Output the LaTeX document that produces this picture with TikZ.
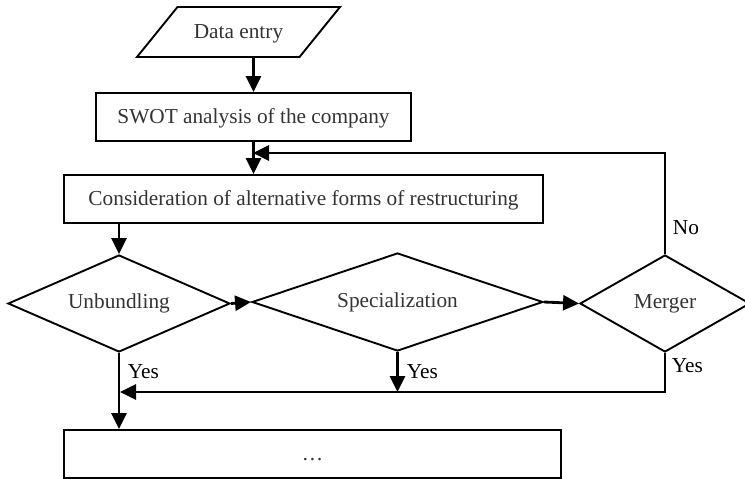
\documentclass[tikz,border=0pt]{standalone}
\usepackage{fontspec}
\setmainfont{Liberation Serif}
\usetikzlibrary{arrows.meta,shapes.geometric}

\definecolor{boxtext}{HTML}{333333}

\begin{document}
\begin{tikzpicture}[x=1pt, y=-1pt, line width=1.9pt,
    >={Triangle[length=16pt,width=15pt]},
    every node/.style={inner sep=0pt, font=\fontsize{21.3}{25}\selectfont},
    box/.style={draw, rectangle, text=boxtext, text height=14pt, text depth=1pt,
      minimum height=48pt},
    decision/.style={draw, diamond, shape aspect=3, text=boxtext},
    flow/.style={line width=2.8pt, ->}]
    \useasboundingbox (0,0) rectangle (745,479);
    \node[draw, trapezium, trapezium left angle=51, trapezium right angle=129,
      text=boxtext, text height=14pt, text depth=1pt, inner ysep=17.5pt,
      minimum width=203pt, trapezium stretches body] (entry) at (238.5,32) {Data entry};
    \node[box, minimum width=315pt] (swot) at (253.5,117) {SWOT analysis of the company};
    \node[box, minimum width=479pt] (consider) at (303.5,199)
      {Consideration of alternative forms of restructuring};
    \node[decision, minimum width=222pt, minimum height=97pt] (unbundle) at (119,303.5) {Unbundling};
    \node[decision, minimum width=291pt, minimum height=98pt] (special) at (397.5,302) {Specialization};
    \node[decision, minimum width=170pt, minimum height=97pt] (merger) at (665,303.5) {Merger};
    \node[box, minimum width=497pt] (result) at (312.5,454) {\dots};
    \coordinate (loop) at (253,153);
    \coordinate (collect) at (120,392);
    \draw[flow] (entry.south -| swot.north) -- (swot.north);
    \draw[flow] (swot.south) -- (swot.south |- consider.north);
    \draw[flow] (merger.north) |- (loop);
    \node[anchor=west] (no) at (672,228) {No};
    \draw[flow] (unbundle.north |- consider.south) -- (unbundle.north);
    \draw[flow] (unbundle.east) -- (special.west);
    \draw[flow] (special.east) -- (merger.west);
    \draw[flow] (unbundle.south) -- (unbundle.south |- result.north);
    \draw[flow] (special.south) -- (special.south |- collect);
    \draw[flow] (merger.south) |- (collect);
    \node[anchor=west] (yes1) at (127,372) {Yes};
    \node[anchor=west] (yes2) at (406,372) {Yes};
    \node[anchor=west] (yes3) at (671,366) {Yes};
  \end{tikzpicture}
\end{document}
